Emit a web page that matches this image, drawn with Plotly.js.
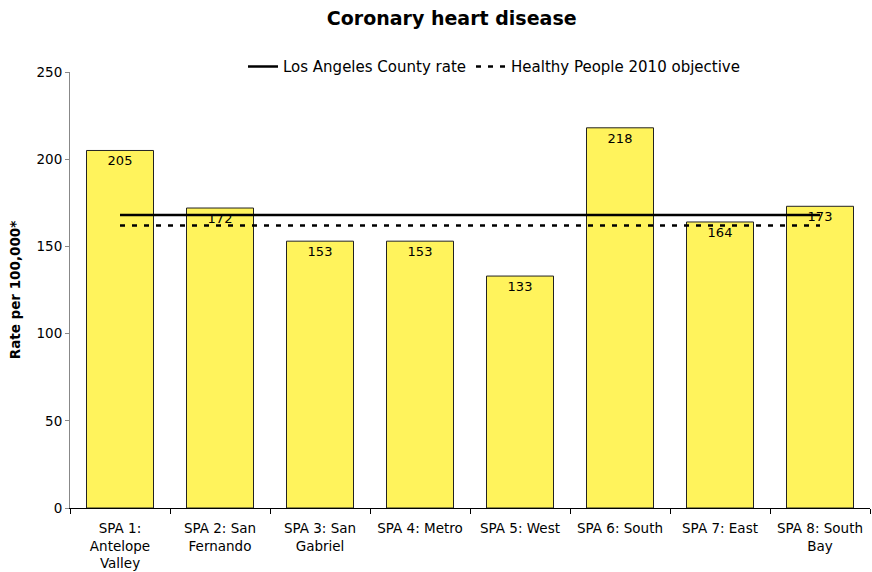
<!DOCTYPE html>
<html>
<head>
<meta charset="utf-8">
<script src="https://cdn.plot.ly/plotly-3.0.1.min.js"></script>
<style>html,body{margin:0;padding:0;background:#fff;}#chart{width:872px;height:572px;}</style>
</head>
<body>
<div id="chart"></div>
<script>
const categories = ["SPA 1:<br>Antelope<br>Valley", "SPA 2: San<br>Fernando", "SPA 3: San<br>Gabriel", "SPA 4: Metro", "SPA 5: West", "SPA 6: South", "SPA 7: East", "SPA 8: South<br>Bay"];
const rates = [205, 172, 153, 153, 133, 218, 164, 173];
const countyRate = [168, 168, 168, 168, 168, 168, 168, 168];
const hp2010 = [162, 162, 162, 162, 162, 162, 162, 162];
const yTicks = [0, 50, 100, 150, 200, 250];

const font = "Verdana, 'DejaVu Sans', sans-serif";

const traces = [
  {
    type: 'bar', x: categories, y: rates, text: rates.map(String),
    textposition: 'inside', insidetextanchor: 'end',
    textfont: {family: font, size: 13, color: '#000'},
    marker: {color: '#FFF35C', line: {color: '#222', width: 1}},
    showlegend: false, hoverinfo: 'skip', cliponaxis: false
  },
  {
    type: 'scatter', mode: 'lines', x: categories, y: countyRate,
    name: 'Los Angeles County rate',
    line: {color: '#000', width: 2.5}
  },
  {
    type: 'scatter', mode: 'lines', x: categories, y: hp2010,
    name: 'Healthy People 2010 objective',
    line: {color: '#000', width: 2.5, dash: '5px,7px'}
  }
];

const layout = {
  width: 872, height: 572,
  margin: {l: 70, r: 2, t: 72, b: 64},
  paper_bgcolor: '#fff', plot_bgcolor: '#fff',
  font: {family: font, size: 12, color: '#000'},
  title: {text: '<b>Coronary heart disease</b>', font: {family: font, size: 19, color: '#000'}, x: 0.518, xanchor: 'center', y: 0.968, yanchor: 'middle'},
  bargap: 0.33,
  showlegend: true,
  legend: {orientation: 'h', x: 0.53, xanchor: 'center', y: 1.012, yanchor: 'middle', font: {family: font, size: 15, color: '#000'}, bgcolor: 'rgba(0,0,0,0)', tracegroupgap: 0},
  xaxis: {
    type: 'category', range: [-0.5, 7.5], showline: true, linecolor: '#000', linewidth: 1,
    ticks: 'outside', tickson: 'boundaries', ticklen: 5, tickcolor: '#000', ticklabelstandoff: 8,
    showgrid: false, zeroline: false, tickfont: {family: font, size: 13.5, color: '#000'}, fixedrange: true
  },
  yaxis: {
    range: [0, 250], tickvals: yTicks, ticktext: yTicks.map(String),
    showline: true, linecolor: '#888', linewidth: 1, ticks: 'outside', ticklen: 4, tickcolor: '#888',
    showgrid: false, zeroline: false, tickfont: {family: font, size: 13.5, color: '#000'},
    title: {text: '<b>Rate per 100,000*</b>', font: {family: font, size: 13.5, color: '#000'}, standoff: 12}
  }
};

Plotly.newPlot('chart', traces, layout, {displayModeBar: false, staticPlot: true});
</script>
</body>
</html>
